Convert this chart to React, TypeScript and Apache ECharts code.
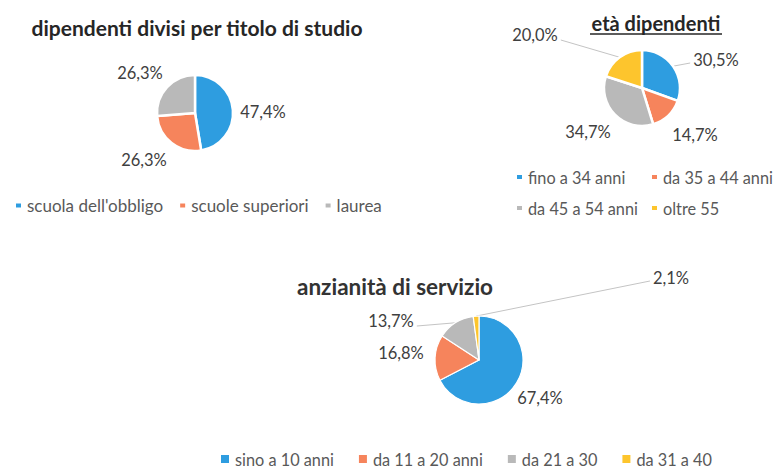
import React, { useEffect, useRef } from 'react';
import * as echarts from 'echarts';

const titoloCategories = ["scuola dell'obbligo", 'scuole superiori', 'laurea'];
const titoloValues = [47.4, 26.3, 26.3];

const etaCategories = ['fino a 34 anni', 'da 35 a 44 anni', 'da 45 a 54 anni', 'oltre 55'];
const etaValues = [30.5, 14.7, 34.7, 20.0];

const anzianitaCategories = ['sino a 10 anni', 'da 11 a 20 anni', 'da 21 a 30', 'da 31 a 40'];
const anzianitaValues = [67.4, 16.8, 13.7, 2.1];

const chartTitles = ['dipendenti divisi per titolo di studio', 'età dipendenti', 'anzianità di servizio'];

const COLORS = ['#2e9de0', '#f6845c', '#b9b9b9', '#fdc52d'];
const FONT = 'Lato, "Open Sans", sans-serif';
const LABEL_COLOR = '#404040';
const LEGEND_COLOR = '#595959';

type PieLayout = {
  center: [number, number];
  radius: number;
  labels: [number, number][];
  leader: boolean[];
  border: number;
};

const layouts: PieLayout[] = [
  { center: [195, 113], radius: 38, labels: [[263, 112], [144, 160], [140, 73]], leader: [false, false, false], border: 2.5 },
  { center: [642, 88], radius: 38, labels: [[716, 60], [695, 135], [588, 132], [535, 35]], leader: [true, false, false, true], border: 2.5 },
  { center: [479, 360], radius: 44, labels: [[540, 398], [401, 353], [391, 321], [671, 278]], leader: [false, false, true, true], border: 1.2 },
];

const fmt = (v: number) => v.toFixed(1).replace('.', ',') + '%';

function makeSeries(names: string[], values: number[], lay: PieLayout) {
  const total = values.reduce((a, b) => a + b, 0);
  const mids: number[] = [];
  let cum = 0;
  values.forEach((v) => {
    mids.push((cum + v / 2) / total);
    cum += v;
  });
  return {
    type: 'pie',
    center: lay.center,
    radius: lay.radius,
    startAngle: 90,
    clockwise: true,
    avoidLabelOverlap: false,
    itemStyle: { borderColor: '#ffffff', borderWidth: lay.border },
    emphasis: { disabled: true },
    label: {
      show: true,
      position: 'outside',
      formatter: (p: any) => fmt(p.value),
      fontFamily: FONT,
      fontSize: 16.5,
      color: LABEL_COLOR,
    },
    labelLine: { show: true, lineStyle: { color: '#c4c4c4', width: 1 } },
    labelLayout: (params: any) => {
      const i = params.dataIndex;
      const [lx, ly] = lay.labels[i];
      const res: any = { x: lx, y: ly, align: 'center', verticalAlign: 'middle' };
      if (lay.leader[i]) {
        const a = mids[i] * Math.PI * 2;
        const sx = lay.center[0] + lay.radius * Math.sin(a);
        const sy = lay.center[1] - lay.radius * Math.cos(a);
        const hw = (params.labelRect ? params.labelRect.width : 44) / 2;
        let ex: number;
        let ey: number;
        if (lx < sx) {
          ex = lx + hw + 3;
          ey = ly + 5;
        } else {
          ex = lx - hw - 3;
          ey = ly + 3;
        }
        res.labelLinePoints = [[sx, sy], [ex, ey], [ex, ey]];
      }
      return res;
    },
    data: names.map((n, i) => ({
      name: n,
      value: values[i],
      itemStyle: { color: COLORS[i] },
      labelLine: { show: lay.leader[i] },
    })),
  };
}

export default function App() {
  const ref = useRef<HTMLDivElement>(null);
  useEffect(() => {
    if (!ref.current) return;
    const chart = echarts.init(ref.current, undefined, { renderer: 'svg' });
    const legendText = { fontFamily: FONT, fontSize: 17, color: LEGEND_COLOR };
    const legendTextSmall = { fontFamily: FONT, fontSize: 16.3, color: LEGEND_COLOR };
    chart.setOption({
      animation: false,
      backgroundColor: '#ffffff',
      graphic: [
        {
          type: 'text',
          x: 197,
          y: 27,
          style: { text: chartTitles[0], font: `bold 21px ${FONT}`, fill: '#262626', textAlign: 'center', textVerticalAlign: 'middle' },
        },
        {
          type: 'text',
          x: 656,
          y: 23,
          style: { text: chartTitles[1], font: `bold 20px ${FONT}`, fill: '#262626', textAlign: 'center', textVerticalAlign: 'middle' },
        },
        {
          type: 'line',
          shape: { x1: 590, y1: 34, x2: 722, y2: 34 },
          style: { stroke: '#262626', lineWidth: 1.4 },
        },
        {
          type: 'text',
          x: 395,
          y: 286,
          style: { text: chartTitles[2], font: `bold 22.5px ${FONT}`, fill: '#333333', textAlign: 'center', textVerticalAlign: 'middle' },
        },
      ],
      legend: [
        {
          data: titoloCategories,
          left: 9,
          top: 192,
          icon: 'rect',
          itemWidth: 7,
          itemHeight: 6,
          itemGap: 15,
          textStyle: legendText,
          selectedMode: false,
        },
        {
          data: [etaCategories[0], etaCategories[2]],
          orient: 'vertical',
          left: 510,
          top: 164,
          icon: 'rect',
          itemWidth: 7,
          itemHeight: 6,
          itemGap: 15,
          textStyle: legendTextSmall,
          selectedMode: false,
        },
        {
          data: [etaCategories[1], etaCategories[3]],
          orient: 'vertical',
          left: 645,
          top: 164,
          icon: 'rect',
          itemWidth: 7,
          itemHeight: 6,
          itemGap: 15,
          textStyle: legendTextSmall,
          selectedMode: false,
        },
        {
          data: anzianitaCategories,
          left: 214,
          top: 446,
          icon: 'rect',
          itemWidth: 10,
          itemHeight: 10,
          itemGap: 23,
          textStyle: legendTextSmall,
          selectedMode: false,
        },
      ],
      series: [
        makeSeries(titoloCategories, titoloValues, layouts[0]),
        makeSeries(etaCategories, etaValues, layouts[1]),
        makeSeries(anzianitaCategories, anzianitaValues, layouts[2]),
      ],
    });
    return () => chart.dispose();
  }, []);
  return (
    <div
      ref={ref}
      style={{ position: 'fixed', left: 0, top: 0, width: 775, height: 470, background: '#ffffff' }}
    />
  );
}
